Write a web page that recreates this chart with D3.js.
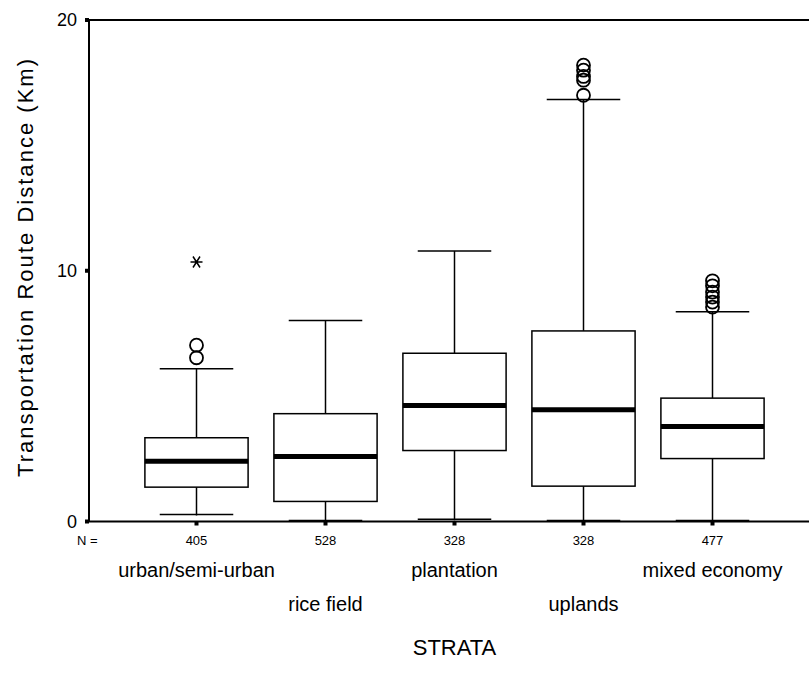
<!DOCTYPE html>
<html>
<head>
<meta charset="utf-8">
<script src="https://cdn.jsdelivr.net/npm/d3@7"></script>
<style>
  body { margin: 0; background: #fff; }
  text { font-family: "Liberation Sans", Arial, sans-serif; fill: #000; }
</style>
</head>
<body>
<script>
// Chart data
const categories = ['urban/semi-urban', 'rice field', 'plantation', 'uplands', 'mixed economy'];
const counts = [405, 528, 328, 328, 477];
const whiskerLow = [0.24, 0.0, 0.05, 0.0, 0.0];
const q1 = [1.37, 0.80, 2.83, 1.41, 2.51];
const medians = [2.40, 2.59, 4.63, 4.46, 3.79];
const q3 = [3.34, 4.30, 6.71, 7.60, 4.92];
const whiskerHigh = [6.09, 8.02, 10.79, 16.83, 8.36];
const outliers = [
    [6.53, 7.03],
    [],
    [],
    [17.0, 17.6, 17.75, 18.0, 18.2],
    [8.55, 8.75, 8.95, 9.15, 9.4, 9.6]
];
const extremes = [[10.35], [], [], [], []];
const yTicks = [0, 10, 20];

const width = 809;
const height = 677;

const svg = d3.select('body')
    .append('svg')
    .attr('width', width)
    .attr('height', height);

// Scales
const xScale = d3.scaleBand()
    .domain(categories)
    .range([89, 820])
    .paddingInner(0)
    .paddingOuter(1 / 3);

const yScale = d3.scaleLinear()
    .domain([0, 20])
    .range([521.5, 20]);

const step = xScale.step();
const boxW = step * 0.8;
const capW = step * 0.57;
const cx = c => xScale(c) + xScale.bandwidth() / 2;

// Frame
svg.append('rect')
    .attr('x', 89)
    .attr('y', yScale(20))
    .attr('width', 760)
    .attr('height', yScale(0) - yScale(20))
    .attr('fill', 'none')
    .attr('stroke', '#000')
    .attr('stroke-width', 2);

// Y ticks (small squares) and labels
svg.selectAll('rect.ytick')
    .data(yTicks)
    .enter()
    .append('rect')
    .attr('class', 'ytick')
    .attr('x', 85)
    .attr('y', d => yScale(d) - 2)
    .attr('width', 4)
    .attr('height', 4)
    .attr('fill', '#000');

svg.selectAll('text.ylab')
    .data(yTicks)
    .enter()
    .append('text')
    .attr('class', 'ylab')
    .attr('x', 77)
    .attr('y', d => yScale(d) + 6)
    .attr('text-anchor', 'end')
    .style('font-size', '18px')
    .text(d => d);

// X ticks (small squares)
svg.selectAll('rect.xtick')
    .data(categories)
    .enter()
    .append('rect')
    .attr('class', 'xtick')
    .attr('x', d => cx(d) - 2)
    .attr('y', yScale(0))
    .attr('width', 4)
    .attr('height', 4)
    .attr('fill', '#000');

// Boxes
const g = svg.append('g');
const boxes = g.selectAll('g.box')
    .data(categories.map((c, i) => ({ c, i })))
    .enter()
    .append('g')
    .attr('class', 'box');

// whisker stems
boxes.append('line')
    .attr('x1', d => cx(d.c)).attr('x2', d => cx(d.c))
    .attr('y1', d => yScale(whiskerHigh[d.i])).attr('y2', d => yScale(q3[d.i]))
    .attr('stroke', '#000').attr('stroke-width', 1.5);
boxes.append('line')
    .attr('x1', d => cx(d.c)).attr('x2', d => cx(d.c))
    .attr('y1', d => yScale(q1[d.i])).attr('y2', d => yScale(whiskerLow[d.i]))
    .attr('stroke', '#000').attr('stroke-width', 1.5);
// caps
boxes.append('line')
    .attr('x1', d => cx(d.c) - capW / 2).attr('x2', d => cx(d.c) + capW / 2)
    .attr('y1', d => yScale(whiskerHigh[d.i])).attr('y2', d => yScale(whiskerHigh[d.i]))
    .attr('stroke', '#000').attr('stroke-width', 1.5);
boxes.append('line')
    .attr('x1', d => cx(d.c) - capW / 2).attr('x2', d => cx(d.c) + capW / 2)
    .attr('y1', d => yScale(whiskerLow[d.i]) - 1).attr('y2', d => yScale(whiskerLow[d.i]) - 1)
    .attr('stroke', '#000').attr('stroke-width', 1.5);
// box
boxes.append('rect')
    .attr('x', d => cx(d.c) - boxW / 2)
    .attr('y', d => yScale(q3[d.i]))
    .attr('width', boxW)
    .attr('height', d => yScale(q1[d.i]) - yScale(q3[d.i]))
    .attr('fill', '#fff')
    .attr('stroke', '#000')
    .attr('stroke-width', 1.5);
// median
boxes.append('line')
    .attr('x1', d => cx(d.c) - boxW / 2).attr('x2', d => cx(d.c) + boxW / 2)
    .attr('y1', d => yScale(medians[d.i])).attr('y2', d => yScale(medians[d.i]))
    .attr('stroke', '#000').attr('stroke-width', 5);

// outliers (circles)
boxes.each(function (d) {
    d3.select(this).selectAll('circle')
        .data(outliers[d.i])
        .enter()
        .append('circle')
        .attr('cx', cx(d.c))
        .attr('cy', v => yScale(v))
        .attr('r', 6.5)
        .attr('fill', 'none')
        .attr('stroke', '#000')
        .attr('stroke-width', 1.8);

    // extremes (asterisks)
    d3.select(this).selectAll('path.extreme')
        .data(extremes[d.i])
        .enter()
        .append('path')
        .attr('class', 'extreme')
        .attr('transform', v => `translate(${cx(d.c)},${yScale(v)})`)
        .attr('d', 'M-6,0L6,0M-3.5,-5.5L3.5,5.5M3.5,-5.5L-3.5,5.5')
        .attr('stroke', '#000')
        .attr('stroke-width', 1.5)
        .attr('fill', 'none');
});

// N row
svg.append('text')
    .attr('x', 77)
    .attr('y', 545)
    .style('font-size', '13px')
    .text('N =');

svg.selectAll('text.nlab')
    .data(categories)
    .enter()
    .append('text')
    .attr('class', 'nlab')
    .attr('x', d => cx(d))
    .attr('y', 545)
    .attr('text-anchor', 'middle')
    .style('font-size', '13px')
    .text((d, i) => counts[i]);

// Category labels, staggered in two rows
svg.selectAll('text.cat')
    .data(categories)
    .enter()
    .append('text')
    .attr('class', 'cat')
    .attr('x', d => cx(d))
    .attr('y', (d, i) => i % 2 === 0 ? 577 : 611)
    .attr('text-anchor', 'middle')
    .style('font-size', '20px')
    .text(d => d);

// Axis titles
svg.append('text')
    .attr('x', cx(categories[2]))
    .attr('y', 655)
    .attr('text-anchor', 'middle')
    .style('font-size', '22px')
    .text('STRATA');

svg.append('text')
    .attr('transform', 'rotate(-90)')
    .attr('x', -268)
    .attr('y', 33)
    .attr('text-anchor', 'middle')
    .attr('textLength', 418)
    .attr('lengthAdjust', 'spacing')
    .style('font-size', '22px')
    .text('Transportation Route Distance (Km)');
</script>
</body>
</html>
